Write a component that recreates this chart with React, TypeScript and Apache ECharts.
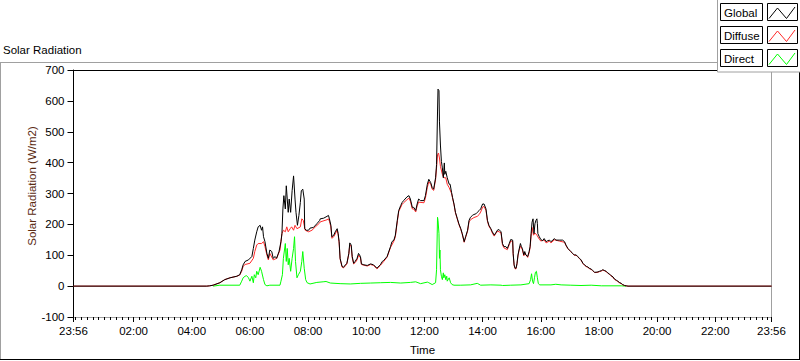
import React, { useEffect, useRef } from "react";
import * as echarts from "echarts";

// Time is minutes after midnight (-4 = 23:56 of the previous day)
const X_MIN = -4;
const X_MAX = 1436;
const majorTicks = [-4, 120, 240, 360, 480, 600, 720, 840, 960, 1080, 1200, 1320, 1436];
const yTicks = [-100, 0, 100, 200, 300, 400, 500, 600, 700];

const seriesNames = ["Global", "Diffuse", "Direct"];
const seriesColors = ["#000000", "#ff2a2a", "#00ff00"];

const globalData: [number, number][] = [
  [-4, 0], [271, 0], [277, 1], [284, 3], [298, 11], [308, 21], [319, 27], [333, 32], [339, 37], [343, 53],
  [346, 69], [350, 80], [357, 85], [364, 96], [367, 122], [370, 149], [374, 176], [377, 192], [381, 197], [384, 181],
  [386, 192], [388, 160], [391, 144], [395, 106], [398, 90], [401, 117], [405, 112], [408, 90], [412, 96], [415, 90],
  [420, 112], [424, 144], [426, 170], [428, 250], [430, 293], [433, 250], [435, 325], [437, 282], [439, 239], [441, 282],
  [444, 239], [447, 309], [450, 357], [453, 282], [455, 239], [458, 197], [461, 229], [464, 271], [466, 309], [469, 314],
  [472, 282], [473, 186], [476, 181], [481, 181], [484, 188], [491, 190], [498, 202], [504, 213], [505, 218], [512, 220],
  [519, 226], [522, 229], [524, 218], [527, 197], [529, 160], [533, 165], [536, 176], [540, 186], [542, 170], [544, 144],
  [546, 90], [550, 64], [553, 61], [557, 69], [560, 74], [564, 106], [566, 140], [569, 133], [571, 96], [574, 74],
  [577, 80], [581, 90], [584, 106], [588, 96], [590, 72], [595, 69], [602, 67], [609, 72], [615, 69], [622, 58],
  [629, 69], [633, 80], [636, 83], [643, 96], [650, 128], [653, 144], [657, 149], [660, 165], [664, 213], [667, 245],
  [671, 261], [674, 271], [677, 277], [684, 289], [688, 293], [691, 282], [695, 255], [698, 255], [702, 245], [705, 266],
  [708, 282], [712, 277], [719, 277], [722, 293], [726, 330], [729, 346], [733, 335], [736, 319], [739, 314], [743, 351],
  [745, 394], [747, 564], [748, 638], [750, 633], [751, 532], [753, 457], [755, 404], [757, 383], [759, 351], [761, 399],
  [762, 362], [764, 372], [767, 351], [771, 330], [773, 330], [776, 303], [778, 287], [781, 266], [784, 239], [788, 218],
  [791, 202], [795, 186], [798, 170], [802, 144], [805, 160], [809, 181], [812, 213], [815, 223], [819, 229], [822, 232],
  [826, 234], [829, 239], [833, 245], [836, 250], [840, 266], [843, 266], [847, 250], [850, 213], [853, 197], [857, 186],
  [860, 176], [864, 165], [867, 172], [871, 182], [874, 183], [878, 176], [881, 138], [884, 128], [888, 128], [891, 122],
  [895, 138], [898, 151], [902, 149], [903, 106], [905, 69], [907, 58], [909, 58], [911, 74], [913, 101], [915, 117],
  [918, 138], [920, 128], [922, 122], [925, 101], [927, 112], [929, 101], [933, 96], [936, 112], [938, 128], [940, 170],
  [942, 207], [944, 218], [946, 170], [948, 202], [950, 213], [952, 218], [953, 202], [954, 170], [957, 160], [960, 151],
  [964, 147], [967, 154], [971, 144], [974, 147], [978, 149], [981, 144], [985, 149], [988, 154], [991, 149], [998, 149],
  [1005, 149], [1009, 144], [1012, 133], [1016, 122], [1019, 117], [1022, 112], [1026, 106], [1029, 101], [1033, 101], [1036, 96],
  [1040, 90], [1043, 85], [1047, 74], [1050, 69], [1054, 64], [1057, 62], [1060, 58], [1064, 55], [1067, 51], [1071, 45],
  [1074, 45], [1078, 46], [1081, 48], [1085, 50], [1088, 53], [1091, 51], [1095, 48], [1098, 43], [1102, 39], [1105, 34],
  [1109, 30], [1112, 23], [1116, 19], [1119, 16], [1122, 12], [1126, 9], [1129, 5], [1133, 2], [1136, 1], [1140, 0],
  [1436, 0],
];

const diffuseData: [number, number][] = [
  [-4, 0], [271, 0], [277, 1], [284, 3], [298, 11], [308, 21], [319, 27], [333, 32], [339, 36], [343, 48],
  [346, 64], [350, 70], [360, 74], [367, 90], [370, 112], [374, 133], [377, 138], [384, 138], [388, 144], [391, 128],
  [395, 101], [398, 85], [401, 106], [408, 85], [415, 90], [422, 117], [426, 170], [429, 181], [433, 176], [436, 192],
  [439, 176], [443, 186], [446, 192], [450, 181], [453, 197], [457, 186], [464, 192], [467, 218], [470, 213], [474, 181],
  [481, 176], [488, 181], [495, 192], [504, 205], [505, 208], [519, 215], [522, 218], [524, 210], [527, 192], [529, 155],
  [533, 160], [540, 182], [542, 166], [544, 140], [546, 88], [550, 62], [553, 59], [557, 66], [560, 72], [564, 104],
  [566, 134], [569, 128], [571, 92], [574, 72], [577, 76], [581, 85], [584, 100], [588, 92], [590, 70], [602, 65],
  [609, 70], [615, 67], [622, 56], [629, 67], [636, 80], [643, 94], [650, 125], [657, 146], [660, 160], [664, 208],
  [667, 242], [674, 265], [677, 270], [684, 280], [688, 285], [691, 275], [695, 250], [698, 250], [702, 240], [705, 260],
  [708, 272], [719, 270], [722, 285], [726, 320], [729, 338], [733, 330], [736, 314], [739, 310], [743, 345], [745, 383],
  [747, 426], [749, 431], [751, 415], [753, 388], [757, 362], [760, 351], [764, 351], [767, 330], [771, 319], [776, 300],
  [778, 285], [781, 264], [784, 237], [788, 216], [791, 200], [795, 184], [798, 168], [802, 142], [805, 158], [809, 178],
  [812, 208], [815, 215], [822, 222], [829, 226], [833, 232], [836, 240], [840, 256], [843, 258], [847, 245], [850, 210],
  [853, 194], [857, 184], [860, 172], [864, 162], [867, 170], [871, 178], [878, 173], [881, 134], [884, 124], [891, 118],
  [895, 134], [898, 146], [902, 145], [903, 104], [905, 67], [907, 56], [909, 56], [911, 72], [913, 98], [915, 114],
  [918, 130], [922, 118], [925, 98], [927, 108], [933, 93], [936, 108], [938, 125], [940, 160], [942, 190], [945, 165],
  [948, 172], [952, 165], [957, 152], [960, 146], [967, 150], [971, 140], [978, 146], [981, 140], [988, 150], [998, 146],
  [1009, 142], [1012, 131], [1016, 121], [1019, 116], [1022, 111], [1026, 105], [1029, 100], [1033, 100], [1036, 95], [1040, 89],
  [1043, 84], [1047, 73], [1050, 68], [1054, 63], [1057, 61], [1060, 57], [1064, 54], [1067, 50], [1071, 44], [1074, 44],
  [1078, 45], [1081, 47], [1085, 49], [1088, 52], [1091, 50], [1095, 47], [1098, 42], [1102, 38], [1105, 33], [1109, 29],
  [1112, 22], [1116, 18], [1119, 15], [1122, 11], [1126, 8], [1129, 4], [1133, 2], [1136, 1], [1140, 0], [1436, 0],
];

const directData: [number, number][] = [
  [284, 0], [298, 3], [339, 3], [343, 16], [346, 27], [350, 32], [353, 34], [357, 27], [360, 16], [364, 32],
  [367, 11], [369, 37], [372, 27], [374, 48], [377, 37], [381, 61], [384, 48], [388, 21], [391, 5], [395, 1],
  [401, 3], [422, 3], [424, 16], [427, 37], [429, 90], [433, 138], [435, 80], [437, 122], [439, 69], [441, 90],
  [444, 48], [447, 90], [450, 122], [452, 160], [454, 80], [457, 27], [460, 37], [464, 48], [467, 80], [469, 112],
  [472, 58], [475, 21], [478, 11], [484, 7], [498, 12], [511, 14], [517, 15], [526, 10], [546, 8], [567, 7],
  [588, 9], [609, 10], [629, 11], [650, 12], [671, 10], [691, 12], [702, 14], [712, 8], [726, 13], [729, 11],
  [736, 5], [743, 11], [745, 53], [747, 223], [748, 213], [750, 170], [751, 90], [752, 117], [753, 53], [755, 32],
  [757, 21], [759, 43], [760, 27], [762, 37], [764, 21], [766, 32], [767, 16], [771, 27], [774, 11], [777, 5],
  [781, 3], [795, 3], [815, 4], [829, 9], [836, 3], [857, 4], [878, 3], [881, 2], [898, 3], [919, 4],
  [936, 8], [939, 21], [941, 40], [943, 16], [945, 8], [947, 27], [949, 45], [951, 48], [953, 27], [955, 8],
  [958, 4], [981, 4], [991, 6], [1002, 4], [1022, 3], [1043, 2], [1064, 3], [1085, 1], [1126, 1], [1136, 0],
];

const FONT = '"Liberation Sans", Arial, sans-serif';

function fmtTime(v: number): string {
  const m = ((Math.round(v) % 1440) + 1440) % 1440;
  const hh = Math.floor(m / 60);
  const mm = m % 60;
  return String(hh).padStart(2, "0") + ":" + String(mm).padStart(2, "0");
}

export default function App() {
  const ref = useRef<HTMLDivElement>(null);

  useEffect(() => {
    if (!ref.current) return;
    const chart = echarts.init(ref.current, undefined, { renderer: "svg" });

    const minorTicks: number[] = [];
    for (let t = 0; t < 1436; t += 12) minorTicks.push(t);

    const legendGraphics: any[] = [];
    seriesNames.forEach((name, i) => {
      const y0 = 3.5 + i * 23;
      legendGraphics.push(
        {
          type: "rect",
          z: 101,
          shape: { x: 720.5, y: y0, width: 42, height: 17 },
          style: { fill: "#ffffff", stroke: "#000000", lineWidth: 1 },
        },
        {
          type: "text",
          z: 102,
          x: 724,
          y: y0 + 9,
          style: {
            text: name,
            fill: "#000000",
            font: "11.5px " + FONT,
            textAlign: "left",
            textVerticalAlign: "middle",
          },
        },
        {
          type: "rect",
          z: 101,
          shape: { x: 767.5, y: y0, width: 30, height: 17 },
          style: { fill: "#ffffff", stroke: "#000000", lineWidth: 1 },
        },
        {
          type: "polyline",
          z: 102,
          shape: {
            points: [
              [769, y0 + 15],
              [777.5, y0 + 4.5],
              [786.5, y0 + 15],
              [795, y0 + 3.5],
            ],
          },
          style: { stroke: seriesColors[i], lineWidth: 1, fill: "none" },
        }
      );
    });

    const option: any = {
      animation: false,
      backgroundColor: "#ffffff",
      title: {
        text: "Solar Radiation",
        left: 3,
        top: 44,
        padding: 0,
        textStyle: { fontSize: 11.5, fontWeight: "normal", color: "#000000", fontFamily: FONT },
      },
      grid: { left: 73.5, top: 70, width: 698, height: 251, containLabel: false },
      xAxis: [
        {
          type: "value",
          min: X_MIN,
          max: X_MAX,
          position: "bottom",
          name: "Time",
          nameLocation: "middle",
          nameGap: 27,
          nameTextStyle: { color: "#000000", fontSize: 11.5, fontFamily: FONT },
          axisLine: { show: true, onZero: false, lineStyle: { color: "#a0a0a0", width: 1 } },
          axisTick: {
            show: true,
            customValues: majorTicks,
            length: 5,
            lineStyle: { color: "#000000" },
          },
          axisLabel: {
            customValues: majorTicks,
            formatter: (v: number) => fmtTime(v),
            color: "#000000",
            fontSize: 11.5,
            fontFamily: FONT,
            margin: 8,
            showMinLabel: true,
            showMaxLabel: true,
            hideOverlap: false,
          },
          splitLine: { show: false },
        },
        {
          type: "value",
          min: X_MIN,
          max: X_MAX,
          position: "bottom",
          axisLine: { show: false, onZero: false },
          axisTick: { show: true, customValues: minorTicks, length: 3, lineStyle: { color: "#000000" } },
          axisLabel: { show: false },
          splitLine: { show: false },
        },
        {
          type: "value",
          min: X_MIN,
          max: X_MAX,
          position: "top",
          axisLine: { show: true, onZero: false, lineStyle: { color: "#000000", width: 1 } },
          axisTick: { show: false },
          axisLabel: { show: false },
          splitLine: { show: false },
        },
      ],
      yAxis: [
        {
          type: "value",
          min: -100,
          max: 700,
          interval: 100,
          position: "left",
          axisLine: { show: true, onZero: false, lineStyle: { color: "#000000", width: 1 } },
          axisTick: { show: true, length: 6, lineStyle: { color: "#000000" } },
          axisLabel: {
            color: "#000000",
            fontSize: 11.5,
            fontFamily: FONT,
            margin: 9,
            customValues: yTicks,
          },
          splitLine: { show: false },
        },
        {
          type: "value",
          min: -100,
          max: 700,
          interval: 100,
          position: "right",
          axisLine: { show: true, onZero: false, lineStyle: { color: "#a0a0a0", width: 1 } },
          axisTick: { show: false },
          axisLabel: { show: false },
          splitLine: { show: false },
        },
      ],
      series: [
        {
          name: "Direct",
          type: "line",
          data: directData,
          xAxisIndex: 0,
          yAxisIndex: 0,
          showSymbol: false,
          symbol: "none",
          z: 2,
          lineStyle: { color: seriesColors[2], width: 1 },
          itemStyle: { color: seriesColors[2] },
        },
        {
          name: "Diffuse",
          type: "line",
          data: diffuseData,
          xAxisIndex: 0,
          yAxisIndex: 0,
          showSymbol: false,
          symbol: "none",
          z: 3,
          lineStyle: { color: seriesColors[1], width: 1 },
          itemStyle: { color: seriesColors[1] },
        },
        {
          name: "Global",
          type: "line",
          data: globalData,
          xAxisIndex: 0,
          yAxisIndex: 0,
          showSymbol: false,
          symbol: "none",
          z: 4,
          lineStyle: { color: seriesColors[0], width: 1 },
          itemStyle: { color: seriesColors[0] },
        },
      ],
      graphic: [
        {
          type: "line",
          z: 50,
          shape: { x1: 0, y1: 62.5, x2: 717, y2: 62.5 },
          style: { stroke: "#a0a0a0", lineWidth: 1 },
        },
        {
          type: "line",
          z: 50,
          shape: { x1: 0.5, y1: 62, x2: 0.5, y2: 360 },
          style: { stroke: "#a0a0a0", lineWidth: 1 },
        },
        {
          type: "line",
          z: 50,
          shape: { x1: 0, y1: 359.5, x2: 800, y2: 359.5 },
          style: { stroke: "#000000", lineWidth: 1 },
        },
        {
          type: "line",
          z: 50,
          shape: { x1: 799.5, y1: 72, x2: 799.5, y2: 360 },
          style: { stroke: "#000000", lineWidth: 1 },
        },
        {
          type: "rect",
          z: 100,
          shape: { x: 717.5, y: -2, width: 90, height: 74 },
          style: { fill: "#ffffff", stroke: "#a0a0a0", lineWidth: 1 },
        },
        {
          type: "text",
          z: 50,
          x: 32,
          y: 186,
          rotation: Math.PI / 2,
          style: {
            text: "Solar Radiation (W/m2)",
            fill: "#5a2a12",
            font: "11.5px " + FONT,
            textAlign: "center",
            textVerticalAlign: "middle",
          },
        },
        ...legendGraphics,
      ],
    };

    chart.setOption(option);
    return () => chart.dispose();
  }, []);

  return (
    <div
      ref={ref}
      style={{ position: "absolute", left: 0, top: 0, width: 800, height: 361 }}
    />
  );
}
